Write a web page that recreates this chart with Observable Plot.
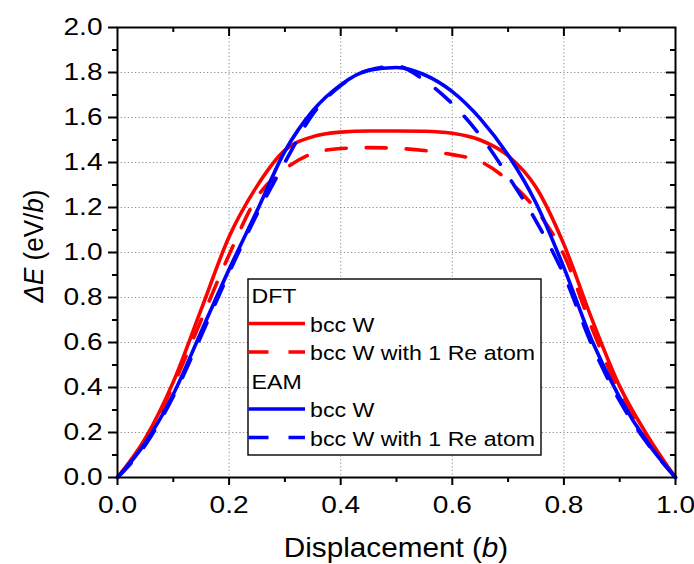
<!DOCTYPE html>
<html><head><meta charset="utf-8">
<script src="https://cdn.jsdelivr.net/npm/d3@7"></script>
<script src="https://cdn.jsdelivr.net/npm/@observablehq/plot@0.6"></script>
<style>
html,body{margin:0;padding:0;background:#fff;}
#chart{position:relative;width:694px;height:564px;}
</style></head><body><div id="chart"></div>
<script>
// ---- data ----
const displacement = [0,0.05,0.1,0.15,0.2,0.25,0.3,0.35,0.4,0.45,0.5,0.55,0.6,0.65,0.7,0.75,0.8,0.85,0.9,0.95,1.0];
const dftW   = [0,0.175,0.425,0.747,1.07,1.295,1.455,1.515,1.535,1.54,1.54,1.539,1.53,1.50,1.43,1.29,1.036,0.705,0.405,0.185,0];
const dftWRe = [0,0.165,0.41,0.70,0.99,1.245,1.37,1.44,1.462,1.466,1.463,1.453,1.435,1.405,1.32,1.19,0.99,0.665,0.38,0.17,0];
const eamW   = [0,0.155,0.37,0.648,0.925,1.185,1.45,1.63,1.745,1.81,1.822,1.79,1.715,1.595,1.433,1.22,0.933,0.61,0.355,0.155,0];
const eamWRe = [0,0.145,0.36,0.63,0.91,1.17,1.40,1.615,1.742,1.81,1.828,1.765,1.661,1.52,1.34,1.14,0.90,0.59,0.34,0.15,0];

const methods = ["DFT","EAM"];
const variants = ["bcc W","bcc W with 1 Re atom"];
const methodColors = ["#ff0000","#0000ff"];
const seriesValues = [[dftW, dftWRe],[eamW, eamWRe]];

const xTicks = [0,0.2,0.4,0.6,0.8,1.0];
const xMinor = [0.1,0.3,0.5,0.7,0.9];
const yTicks = [0,0.2,0.4,0.6,0.8,1.0,1.2,1.4,1.6,1.8,2.0];
const yMinor = [0.1,0.3,0.5,0.7,0.9,1.1,1.3,1.5,1.7,1.9];

// ---- build table ----
const rows = [];
methods.forEach((m, mi) => variants.forEach((v, vi) => {
  seriesValues[mi][vi].forEach((y, i) => rows.push({series: m + " " + v, method: m, variant: vi, x: displacement[i], y}));
}));

const W = 694, H = 564, mL = 117, mR = 19, mT = 27, mB = 87;
const pw = W - mL - mR, ph = H - mT - mB;
const font = "'Liberation Sans', Arial, sans-serif";
const lineW = 3.6, dash = "20,20";

const lineMarks = [];
methods.forEach((m, mi) => variants.forEach((v, vi) => {
  lineMarks.push(Plot.line(rows.filter(r => r.method === m && r.variant === vi), {
    x: "x", y: "y", stroke: methodColors[mi], strokeWidth: lineW,
    strokeDasharray: vi === 1 ? dash : null, curve: "monotone-x"
  }));
}));

const gridStyle = {stroke: "#8c8c8c", strokeOpacity: 1, strokeWidth: 1, strokeDasharray: "1.2,2.4"};

const chart = Plot.plot({
  width: W, height: H,
  marginLeft: mL, marginRight: mR, marginTop: mT, marginBottom: mB,
  style: {fontFamily: font, fontSize: "24px", color: "black", background: "white"},
  x: {domain: [0, 1], label: null},
  y: {domain: [0, 2], label: null},
  marks: [
    Plot.gridX(xTicks.slice(1, -1), gridStyle),
    Plot.gridY(yTicks.slice(1, -1), gridStyle),
    ...lineMarks,
    Plot.frame({stroke: "black", strokeWidth: 2}),
    Plot.axisX(xTicks, {anchor: "bottom", tickSize: 8, tickPadding: 10, tickFormat: d3.format(".1f"), strokeWidth: 2, label: null}),
    Plot.axisX(xMinor, {anchor: "bottom", tickSize: 5, tickFormat: () => "", strokeWidth: 2, label: null}),
    Plot.axisY(yTicks, {anchor: "left", tickSize: 9, tickPadding: 6, tickFormat: d3.format(".1f"), strokeWidth: 2, label: null}),
    Plot.axisY(yMinor, {anchor: "left", tickSize: 5, tickFormat: () => "", strokeWidth: 2, label: null}),
    Plot.ruleX(xTicks.slice(1, -1), {x: d => d, insetBottom: ph - 9, stroke: "black", strokeWidth: 2}),
    Plot.ruleX(xMinor, {x: d => d, insetBottom: ph - 5, stroke: "black", strokeWidth: 2}),
    Plot.ruleY(yTicks.slice(1, -1), {y: d => d, insetLeft: pw - 9, stroke: "black", strokeWidth: 2}),
    Plot.ruleY(yMinor, {y: d => d, insetLeft: pw - 5, stroke: "black", strokeWidth: 2})
  ]
});

document.getElementById("chart").appendChild(chart);
const svg = d3.select(chart);

// horizontal stretch of tick labels to match reference lettering
const isNum = s => s != null && /^\s*-?[\d.]+(e-?\d+)?\s*$/.test(s);
svg.selectAll("text").each(function() {
  let tx = 0, ty = 0;
  const ax = this.getAttribute("x"), ay = this.getAttribute("y");
  if (isNum(ax)) { tx = +ax; this.removeAttribute("x"); }
  if (isNum(ay)) { ty = +ay; this.removeAttribute("y"); }
  const t = this.getAttribute("transform") || "";
  this.setAttribute("transform", `${t} translate(${tx},${ty}) scale(1.17,1)`);
});

// axis labels
const xl = svg.append("text").attr("transform", `translate(${mL + pw / 2},557) scale(1.1,1)`)
  .attr("text-anchor", "middle").attr("font-size", 27).attr("font-family", font).attr("fill", "black");
xl.append("tspan").text("Displacement (");
xl.append("tspan").attr("font-style", "italic").text("b");
xl.append("tspan").text(")");

const yl = svg.append("text").attr("transform", `translate(43,246) rotate(-90) scale(1,1.08)`)
  .attr("text-anchor", "middle").attr("font-size", 26).attr("font-family", font).attr("fill", "black");
yl.append("tspan").attr("font-style", "italic").text("\u0394E");
yl.append("tspan").text(" (eV/");
yl.append("tspan").attr("font-style", "italic").text("b");
yl.append("tspan").text(")");

// legend (inside plot)
const lg = svg.append("g").attr("font-family", font).attr("font-size", 20.5).attr("fill", "black").attr("text-anchor", "start");
lg.append("rect").attr("x", 248).attr("y", 279).attr("width", 293).attr("height", 176)
  .attr("fill", "white").attr("stroke", "black").attr("stroke-width", 1.4);
let row = 0;
const rowY = i => 303.3 + i * 28.5;
methods.forEach((m, mi) => {
  lg.append("text").attr("text-anchor", "start").attr("transform", `translate(251.5,${rowY(row)}) scale(1.13,1)`).text(m);
  row++;
  variants.forEach((v, vi) => {
    const by = rowY(row);
    lg.append("line").attr("x1", 248.5).attr("x2", 305).attr("y1", by - 8.3).attr("y2", by - 8.3)
      .attr("stroke", methodColors[mi]).attr("stroke-width", lineW)
      .attr("stroke-dasharray", vi === 1 ? dash : null);
    lg.append("text").attr("text-anchor", "start").attr("transform", `translate(310,${by}) scale(1.13,1)`).text(v);
    row++;
  });
});
</script></body></html>
